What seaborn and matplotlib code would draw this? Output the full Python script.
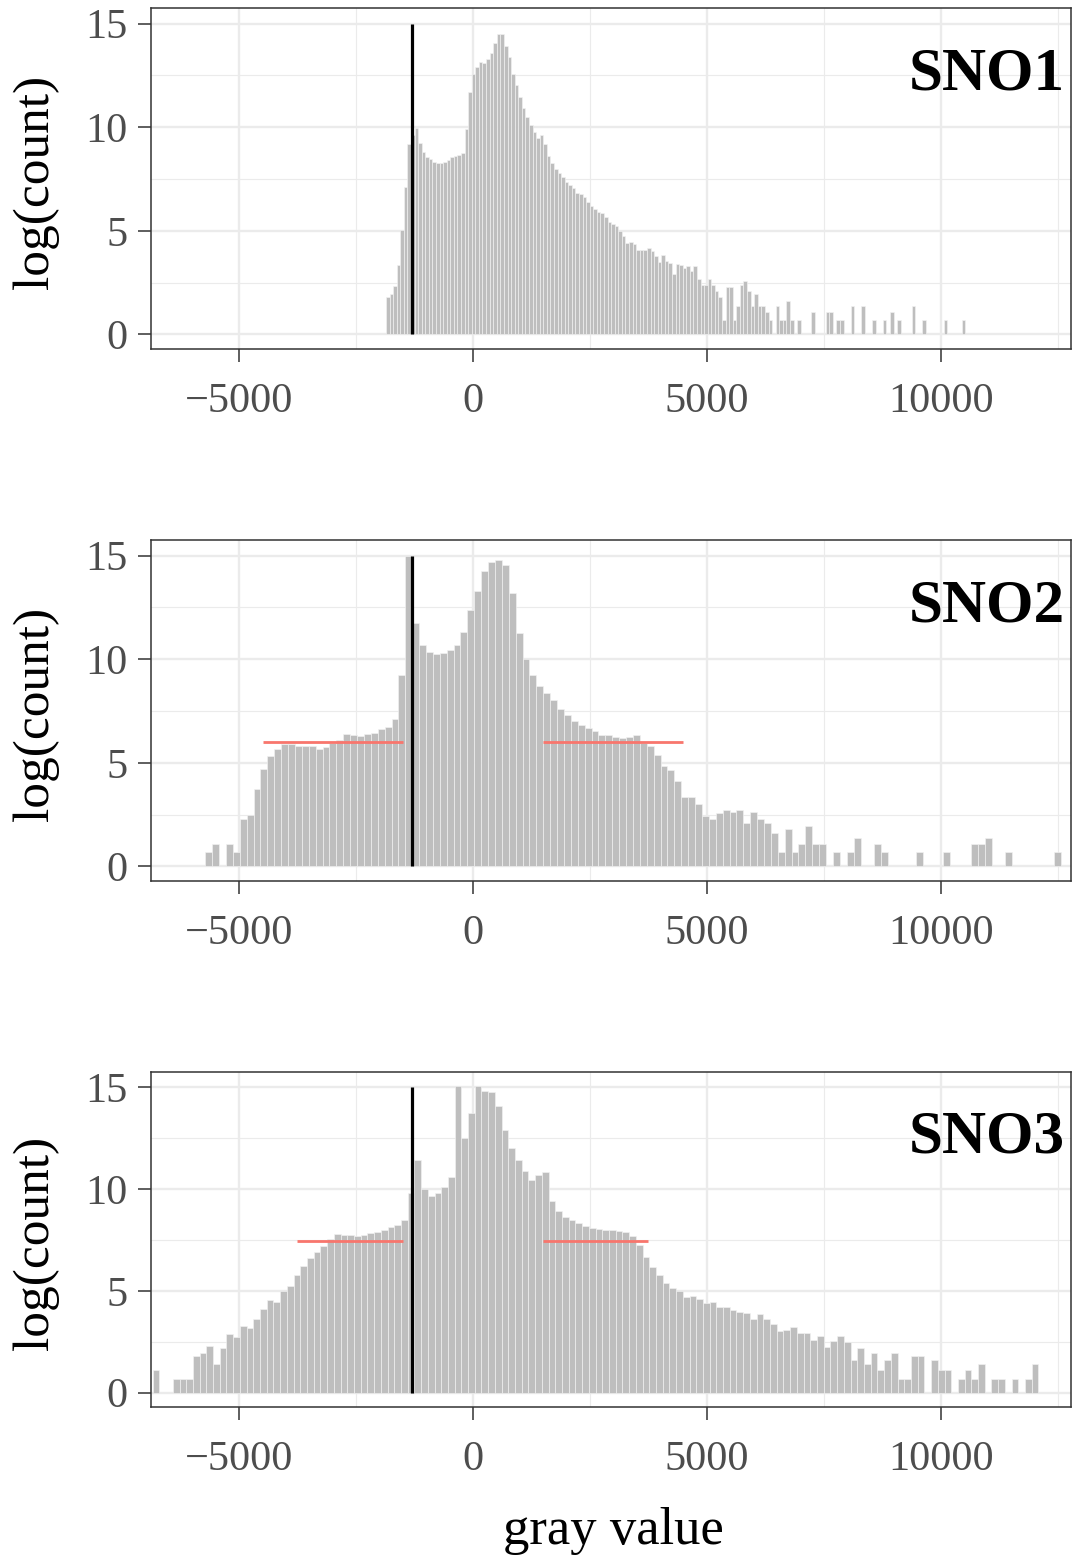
import numpy as np
import pandas as pd
import matplotlib
matplotlib.use("Agg")
import matplotlib.pyplot as plt
import matplotlib.transforms as mtransforms
from matplotlib.ticker import MultipleLocator
import seaborn as sns

sns.set_theme(style="white")
plt.rcParams['font.family'] = ['Liberation Serif', 'DejaVu Serif']
plt.rcParams['axes.unicode_minus'] = True

# ---------------- data ----------------
panel_labels = ["SNO1", "SNO2", "SNO3"]

sno1_start, sno1_width = -1859.0, 76.4
sno1_logcount = [
    1.79, 1.95, 2.32, 3.37, 5.05, 7.13, 9.21, 9.6, 9.98, 9.25,
    8.81, 8.57, 8.45, 8.33, 8.28, 8.28, 8.33, 8.41, 8.57, 8.6,
    8.65, 8.77, 9.93, 11.7, 12.58, 12.9, 13.14, 13.1, 13.3, 13.57,
    14.05, 14.5, 14.5, 13.94, 13.38, 12.58, 12.02, 11.46, 10.95, 10.5,
    10.1, 9.78, 9.5, 9.62, 9.21, 8.6, 8.25, 7.96, 7.77, 7.61,
    7.37, 7.21, 7.05, 6.81, 6.78, 6.62, 6.41, 6.2, 6.04, 5.93,
    5.88, 5.69, 5.45, 5.34, 5.21, 4.97, 4.73, 4.41, 4.44, 4.38,
    4.09, 4.09, 4.06, 4.17, 4.01, 3.77, 3.48, 3.85, 3.53, 3.45,
    2.93, 3.41, 3.33, 3.2, 3.32, 3.04, 3.32, 2.68, 2.4, 2.4,
    2.68, 2.4, 2.08, 1.79, 0.69, 2.3, 2.3, 0.69, 1.39, 2.4,
    2.56, 2.08, 1.39, 1.95, 1.39, 1.39, 1.1, 0.69, 0, 1.39,
    0.69, 0.69, 1.61, 0.69, 0, 0.69, 0, 0, 0, 1.1,
    0, 0, 0, 1.1, 1.1, 0, 0.69, 0.69, 0, 0,
    1.39, 0, 0, 1.39, 0, 0, 0.69, 0, 0, 0.69,
    0, 1.1, 0, 0.69, 0, 0, 0, 1.39, 0, 0,
    0.69, 0, 0, 0, 0, 0, 0.69, 0, 0, 0,
    0, 0.69,
]

sno2_start, sno2_width = -5720.0, 147.4
sno2_logcount = [
    0.69, 1.1, 0, 1.1, 0.69, 2.3, 2.48, 3.74, 4.68, 5.32,
    5.68, 5.89, 5.89, 5.81, 5.81, 5.81, 5.65, 5.76, 5.97, 6.1,
    6.4, 6.33, 6.3, 6.38, 6.42, 6.61, 6.74, 7.1, 9.23, 14.97,
    11.77, 10.68, 10.35, 10.27, 10.32, 10.45, 10.68, 11.29, 12.37, 13.3,
    14.24, 14.71, 14.79, 14.56, 13.19, 11.26, 10.03, 9.23, 8.71, 8.36,
    8.03, 7.58, 7.31, 7.02, 6.82, 6.66, 6.53, 6.34, 6.34, 6.26,
    6.21, 6.27, 6.34, 5.97, 5.81, 5.37, 4.84, 4.65, 4.11, 3.36,
    3.36, 3.02, 2.45, 2.3, 2.56, 2.71, 2.64, 2.71, 2.08, 2.64,
    2.3, 2.08, 1.61, 0.69, 1.79, 0.69, 1.1, 1.95, 1.1, 1.1,
    0, 0.69, 0, 0.69, 1.39, 0, 0, 1.1, 0.69, 0,
    0, 0, 0, 0.69, 0, 0, 0, 0.69, 0, 0,
    0, 1.1, 1.1, 1.39, 0, 0, 0.69, 0, 0, 0,
    0, 0, 0, 0.69,
]

sno3_start, sno3_width = -6844.0, 143.4
sno3_logcount = [
    1.1, 0, 0, 0.69, 0.69, 0.69, 1.79, 1.95, 2.3, 1.39,
    2.2, 2.87, 2.75, 3.27, 3.19, 3.6, 4.09, 4.55, 4.46, 4.98,
    5.23, 5.8, 6.22, 6.63, 6.9, 7.23, 7.56, 7.8, 7.77, 7.77,
    7.72, 7.77, 7.85, 7.9, 7.97, 8.13, 8.24, 8.49, 9.82, 11.44,
    10.0, 9.68, 9.81, 10.12, 10.57, 15.05, 12.5, 13.75, 15.05, 14.84,
    14.78, 14.08, 12.9, 12.04, 11.42, 10.9, 10.46, 10.7, 10.82, 9.4,
    8.94, 8.65, 8.46, 8.32, 8.21, 8.1, 8.05, 8.0, 7.97, 7.92,
    7.88, 7.72, 7.27, 6.66, 6.17, 5.77, 5.39, 5.12, 5.0, 4.68,
    4.76, 4.58, 4.41, 4.45, 4.22, 4.19, 4.06, 3.97, 3.9, 3.6,
    3.86, 3.62, 3.37, 3.03, 3.08, 3.21, 2.92, 2.92, 2.59, 2.79,
    2.26, 2.54, 2.8, 2.51, 1.61, 2.2, 1.39, 1.95, 1.1, 1.61,
    1.95, 0.69, 0.69, 1.79, 1.79, 0, 1.61, 1.1, 1.1, 0,
    0.69, 1.1, 0.69, 1.39, 0, 0.69, 0.69, 0, 0.69, 0,
    0.69, 1.39,
]

threshold_x = -1300.0
threshold_top = 15.0
sno2_ref_y = 6.02
sno2_ref_segments = [(-4494, -1502), (1490, 4494)]
sno3_ref_y = 7.46
sno3_ref_segments = [(-3750, -1502), (1490, 3750)]

x_ticks = [-5000, 0, 5000, 10000]
y_ticks = [0, 5, 10, 15]

panels = [
    (sno1_start, sno1_width, sno1_logcount, None, []),
    (sno2_start, sno2_width, sno2_logcount, sno2_ref_y, sno2_ref_segments),
    (sno3_start, sno3_width, sno3_logcount, sno3_ref_y, sno3_ref_segments),
]

# ---------------- layout ----------------
W, H = 1072, 1557
fig = plt.figure(figsize=(W / 100, H / 100), dpi=100)
fig.patch.set_facecolor("white")

boxes = [(151, 1071, 8, 349), (151, 1071, 540, 881), (151, 1071, 1072, 1407)]

for i, ((start, width, vals, ref_y, segs), (l, r, t, b)) in enumerate(zip(panels, boxes)):
    ax = fig.add_axes([l / W, 1 - b / H, (r - l) / W, (b - t) / H])
    n = len(vals)
    centers = start + width * (np.arange(n) + 0.5)
    df = pd.DataFrame({"gray": centers, "logcount": np.asarray(vals, dtype=float)})
    sns.histplot(data=df, x="gray", weights="logcount", bins=n,
                 binrange=(start, start + width * n), ax=ax,
                 color="#BEBEBE", edgecolor="#F2F2F2", linewidth=0.45, alpha=1.0)
    for p in list(ax.patches):
        if p.get_height() <= 0:
            p.remove()

    ax.plot([threshold_x, threshold_x], [0, threshold_top], color="black",
            lw=2.3, solid_capstyle="butt", zorder=5)
    if ref_y is not None:
        for x0, x1 in segs:
            ax.plot([x0, x1], [ref_y, ref_y], color="#F8766D", lw=2.0,
                    solid_capstyle="butt", zorder=5)

    ax.set_xlim(-6880, 12780)
    ax.set_ylim(-0.7, 15.75)
    ax.set_xticks(x_ticks)
    ax.set_yticks(y_ticks)
    ax.xaxis.set_minor_locator(MultipleLocator(2500))
    ax.yaxis.set_minor_locator(MultipleLocator(2.5))
    ax.set_axisbelow(True)
    ax.grid(which="major", color="#EBEBEB", lw=1.7)
    ax.grid(which="minor", color="#EBEBEB", lw=0.85)
    ax.tick_params(which="minor", length=0)
    ax.tick_params(which="major", bottom=True, left=True, length=9.4, width=1.1,
                   color="#333333", labelsize=30.5, labelcolor="#4D4D4D")
    ax.tick_params(axis="y", pad=7.5)
    ax.tick_params(axis="x", pad=14.5)
    for s in ax.spines.values():
        s.set_visible(True)
        s.set_color("#333333")
        s.set_linewidth(1.1)
    ax.set_xlabel("")
    ax.set_ylabel("")

    trans = mtransforms.blended_transform_factory(ax.transAxes, ax.transData)
    ax.text(0.9935, 11.8, panel_labels[i], transform=trans, ha="right", va="baseline",
            fontsize=44, fontweight="bold", color="black", zorder=6)

    fig.text(36 / W, 1 - ((t + b) / 2 + 3) / H, "log(count)", rotation=90,
             ha="center", va="center", fontsize=37, color="black")

fig.text(613 / W, (H - 1544) / H, "gray value", ha="center", va="baseline",
         fontsize=38, color="black")

fig.savefig("out.png", dpi=100, facecolor="white")
